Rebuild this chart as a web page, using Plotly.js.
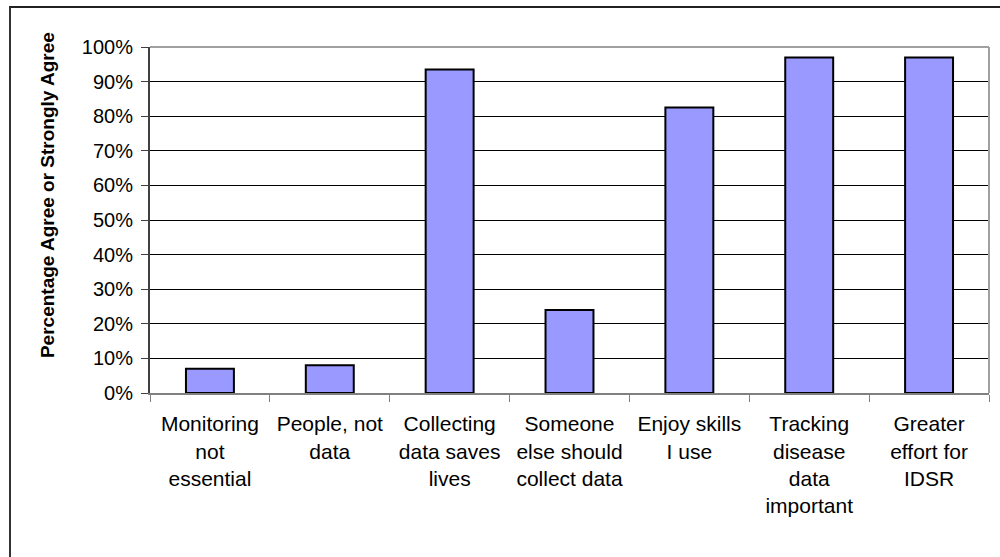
<!DOCTYPE html>
<html>
<head>
<meta charset="utf-8">
<script src="https://cdn.plot.ly/plotly-3.0.1.min.js"></script>
<style>
  html, body { margin: 0; padding: 0; background: #ffffff; overflow: hidden; width: 1000px; height: 557px; }
  #chart { position: absolute; left: 0; top: 0; width: 1000px; height: 557px; }
  #frame { position: absolute; left: 9px; top: 6px; width: 1200px; height: 800px;
           border-top: 2px solid #222222; border-left: 2px solid #333333; pointer-events: none; }
</style>
</head>
<body>
<div id="chart"></div>
<div id="frame"></div>
<script>
// Data
const categories = [
  "Monitoring<br>not<br>essential",
  "People, not<br>data",
  "Collecting<br>data saves<br>lives",
  "Someone<br>else should<br>collect data",
  "Enjoy skills<br>I use",
  "Tracking<br>disease<br>data<br>important",
  "Greater<br>effort for<br>IDSR"
];
const agreePct = [7, 8, 93.5, 24, 82.5, 97, 97];
const yTickValues = [0, 10, 20, 30, 40, 50, 60, 70, 80, 90, 100];
const yTickLabels = ["0%", "10%", "20%", "30%", "40%", "50%", "60%", "70%", "80%", "90%", "100%"];
const yTitle = "Percentage Agree or Strongly Agree";

const FONT = "Liberation Sans, Arial, sans-serif";

const trace = {
  type: "bar",
  x: categories,
  y: agreePct,
  marker: { color: "#9999FF", line: { color: "#000000", width: 2 } },
  hoverinfo: "skip"
};

const layout = {
  width: 1000,
  height: 557,
  margin: { l: 150, r: 11, t: 47, b: 164 },
  paper_bgcolor: "#ffffff",
  plot_bgcolor: "#ffffff",
  showlegend: false,
  bargap: 0.6,
  font: { family: FONT, size: 20, color: "#000000" },
  xaxis: {
    type: "category",
    showline: true,
    linecolor: "#808080",
    linewidth: 2,
    ticks: "outside",
    tickson: "boundaries",
    ticklen: 7,
    tickcolor: "#808080",
    tickwidth: 1,
    showgrid: false,
    tickfont: { family: FONT, size: 21, color: "#000000" },
    ticklabelstandoff: 11,
    fixedrange: true
  },
  yaxis: {
    range: [0, 100],
    tickvals: yTickValues,
    ticktext: yTickLabels,
    showline: true,
    linecolor: "#404040",
    linewidth: 2,
    ticks: "outside",
    ticklen: 7,
    tickcolor: "#404040",
    tickwidth: 1,
    showgrid: true,
    gridcolor: "#000000",
    gridwidth: 1,
    zeroline: false,
    tickfont: { family: FONT, size: 20, color: "#000000" },
    ticklabelstandoff: 4,
    fixedrange: true
  },
  shapes: [
    // plot area border (top and right), gray
    { type: "line", xref: "paper", yref: "paper", x0: 0, x1: 1, y0: 1, y1: 1,
      line: { color: "#a0a0a0", width: 2 }, layer: "above" },
    { type: "line", xref: "paper", yref: "paper", x0: 1, x1: 1, y0: 0, y1: 1,
      line: { color: "#a0a0a0", width: 2 }, layer: "above" }
  ],
  annotations: [
    { text: "<b>" + yTitle + "</b>", xref: "paper", yref: "paper",
      x: -0.1228, y: 0.572, textangle: -90, showarrow: false,
      xanchor: "center", yanchor: "middle",
      font: { family: FONT, size: 19, color: "#000000" } }
  ]
};

Plotly.newPlot("chart", [trace], layout, { displayModeBar: false, staticPlot: true });
</script>
</body>
</html>
